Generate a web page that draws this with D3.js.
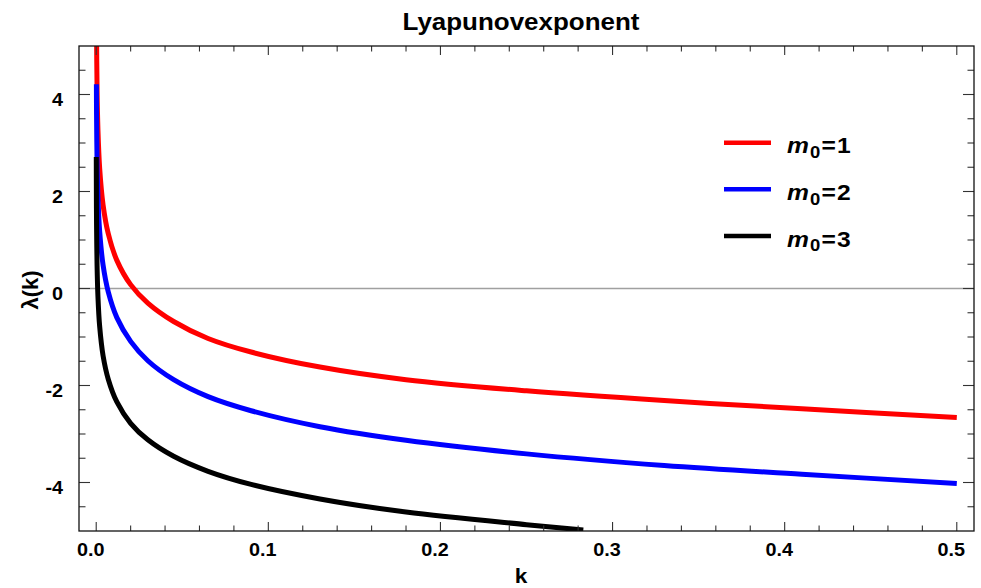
<!DOCTYPE html>
<html><head><meta charset="utf-8">
<script src="https://cdn.jsdelivr.net/npm/d3@7"></script>
<style>
body{margin:0;background:#fff}
text{font-family:"Liberation Sans",Arial,Helvetica,sans-serif;font-weight:bold;fill:#000}
</style>
</head><body>
<svg id="c" width="981" height="588"></svg>
<script>
// ---------- data ----------
const title = "Lyapunovexponent";
const xLabel = "k";
const yLabel = "λ(k)";
const xTicksMajor = [0, 0.1, 0.2, 0.3, 0.4, 0.5];
const xTickLabels = ["0.0", "0.1", "0.2", "0.3", "0.4", "0.5"];
const yTicksMajor = [-4, -2, 0, 2, 4];
const yTickLabels = ["-4", "-2", "0", "2", "4"];
const m0Values = ["1", "2", "3"];
const seriesColors = ["#ff0000", "#0000ff", "#000000"];

// m0 = 1
const k1 = [0.0001, 0.0002, 0.0005, 0.001, 0.002, 0.004, 0.007, 0.012, 0.02, 0.03, 0.045, 0.065, 0.09, 0.13, 0.18, 0.25, 0.33, 0.41, 0.5];
const lambda1 = [6.15, 5.25, 4.10, 3.28, 2.48, 1.72, 1.13, 0.58, 0.08, -0.30, -0.68, -1.03, -1.31, -1.62, -1.88, -2.11, -2.31, -2.48, -2.66];
// m0 = 2
const k2 = [0.00011, 0.0002, 0.0005, 0.001, 0.002, 0.004, 0.007, 0.012, 0.02, 0.03, 0.045, 0.065, 0.09, 0.13, 0.18, 0.25, 0.33, 0.41, 0.5];
const lambda2 = [4.21, 3.58, 2.61, 1.89, 1.18, 0.48, -0.07, -0.60, -1.09, -1.49, -1.88, -2.23, -2.52, -2.85, -3.13, -3.41, -3.65, -3.83, -4.02];
// m0 = 3
const k3 = [0.000045, 0.0001, 0.0002, 0.0005, 0.001, 0.002, 0.004, 0.007, 0.012, 0.02, 0.03, 0.045, 0.065, 0.09, 0.13, 0.18, 0.25, 0.283];
const lambda3 = [2.71, 1.95, 1.31, 0.47, -0.16, -0.78, -1.39, -1.87, -2.34, -2.78, -3.12, -3.46, -3.77, -4.04, -4.34, -4.61, -4.87, -4.98];

const series = [
  {k: k1, v: lambda1, m0: m0Values[0], color: seriesColors[0]},
  {k: k2, v: lambda2, m0: m0Values[1], color: seriesColors[1]},
  {k: k3, v: lambda3, m0: m0Values[2], color: seriesColors[2]}
];

// ---------- layout ----------
const L = 79, R = 974, T = 46, B = 531;
const svg = d3.select("#c");
const x = d3.scaleLinear().domain([-0.01, 0.51]).range([L, R]);
const y = d3.scaleLinear().domain([-5, 5]).range([B, T]);

svg.append("defs").append("clipPath").attr("id", "clip")
  .append("rect").attr("x", L).attr("y", T).attr("width", R - L).attr("height", B - T);

// zero line
svg.append("line").attr("x1", L).attr("x2", R).attr("y1", y(0)).attr("y2", y(0))
  .attr("stroke", "#a0a0a0").attr("stroke-width", 1.3);

// curves
const line = d3.line().x(d => x(d[0])).y(d => y(d[1])).curve(d3.curveCatmullRom.alpha(0.5));
const gC = svg.append("g").attr("clip-path", "url(#clip)");
series.forEach(s => {
  const pts = s.k.map((kk, i) => [kk, s.v[i]]);
  gC.append("path").attr("d", line(pts)).attr("fill", "none")
    .attr("stroke", s.color).attr("stroke-width", 5).attr("stroke-linejoin", "round");
});

// ticks (all four sides, inward)
const tickCol = "#333";
const xMinor = d3.range(0, 0.5001, 0.02).filter(v => xTicksMajor.every(m => Math.abs(m - v) > 1e-6));
const yMinor = d3.range(-4.5, 4.51, 0.5).filter(v => yTicksMajor.every(m => Math.abs(m - v) > 1e-6));
const gT = svg.append("g").attr("stroke", tickCol).attr("stroke-width", 1.1);
function xt(v, len) {
  gT.append("line").attr("x1", x(v)).attr("x2", x(v)).attr("y1", B).attr("y2", B - len);
  gT.append("line").attr("x1", x(v)).attr("x2", x(v)).attr("y1", T).attr("y2", T + len);
}
function yt(v, len) {
  gT.append("line").attr("y1", y(v)).attr("y2", y(v)).attr("x1", L).attr("x2", L + len);
  gT.append("line").attr("y1", y(v)).attr("y2", y(v)).attr("x1", R).attr("x2", R - len);
}
xTicksMajor.forEach(v => xt(v, 9));
xMinor.forEach(v => xt(v, 5.5));
yTicksMajor.forEach(v => yt(v, 11));
yMinor.forEach(v => yt(v, 6.5));

// frame
svg.append("rect").attr("x", L).attr("y", T).attr("width", R - L).attr("height", B - T)
  .attr("fill", "none").attr("stroke", "#111").attr("stroke-width", 1.3);

// tick labels
function stext(px, py, str, size, anchor, sx) {
  return svg.append("text").attr("transform", `translate(${px},${py}) scale(${sx},1)`)
    .attr("font-size", size).attr("text-anchor", anchor).text(str);
}
xTicksMajor.forEach((v, i) => stext(x(v) - 5.5, 556, xTickLabels[i], 18, "middle", 1.1));
yTicksMajor.forEach((v, i) => stext(63, y(v) + 11, yTickLabels[i], 18, "end", 1.1));

// title & axis labels
stext(521, 29.5, title, 24.5, "middle", 1.06);
stext(521, 583, xLabel, 21, "middle", 1.08);
svg.append("text").attr("transform", `translate(38,290) rotate(-90)`)
  .attr("font-size", 22).attr("text-anchor", "middle").text(yLabel);

// legend
const legY = [142.7, 189.3, 236];
series.forEach((s, i) => {
  svg.append("line").attr("x1", 724).attr("x2", 771).attr("y1", legY[i]).attr("y2", legY[i])
    .attr("stroke", s.color).attr("stroke-width", 4.5);
  const t = svg.append("text").attr("transform", `translate(787,${legY[i] + 10.7}) scale(1.12,1)`)
    .attr("font-size", 22).attr("letter-spacing", 1);
  t.append("tspan").attr("font-style", "italic").text("m");
  t.append("tspan").attr("font-size", 16.5).attr("dy", 4.5).text("0");
  t.append("tspan").attr("dy", -4.5).text("=" + s.m0);
});
</script>
</body></html>
